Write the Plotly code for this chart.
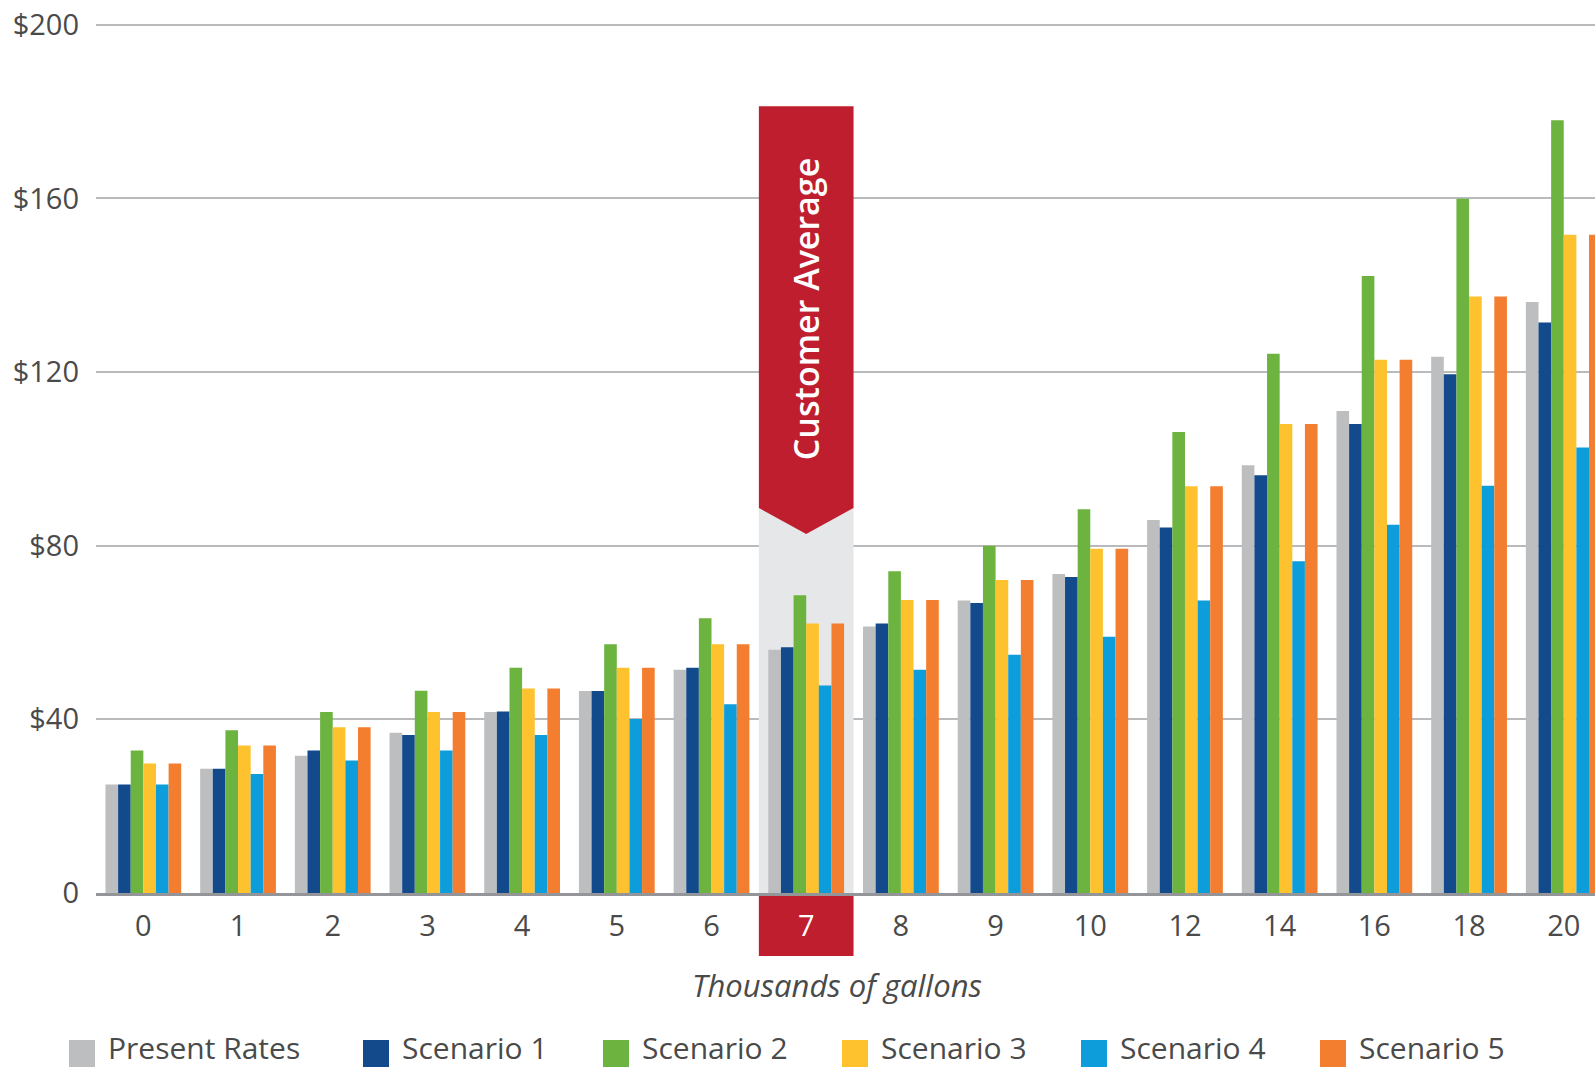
import plotly.graph_objects as go

# ---- data ----
categories = ["0", "1", "2", "3", "4", "5", "6", "7", "8", "9", "10", "12", "14", "16", "18", "20"]
series_names = ["Present Rates", "Scenario 1", "Scenario 2", "Scenario 3", "Scenario 4", "Scenario 5"]
present_rates = [25.0, 28.6, 31.6, 36.9, 41.7, 46.5, 51.4, 56.0, 61.4, 67.4, 73.5, 85.9, 98.5, 111.0, 123.5, 136.1]
scenario_1 = [25.0, 28.6, 32.8, 36.4, 41.8, 46.5, 51.9, 56.6, 62.1, 66.8, 72.8, 84.2, 96.2, 108.0, 119.5, 131.4]
scenario_2 = [32.8, 37.5, 41.7, 46.6, 51.9, 57.3, 63.3, 68.6, 74.1, 80.0, 88.4, 106.2, 124.2, 142.1, 159.9, 178.0]
scenario_3 = [29.8, 34.0, 38.2, 41.7, 47.1, 51.9, 57.3, 62.1, 67.5, 72.1, 79.3, 93.7, 108.0, 122.8, 137.4, 151.6]
scenario_4 = [25.0, 27.4, 30.5, 32.8, 36.4, 40.1, 43.5, 47.8, 51.4, 54.9, 59.0, 67.4, 76.4, 84.8, 93.8, 102.6]
scenario_5 = [29.8, 34.0, 38.2, 41.7, 47.1, 51.9, 57.3, 62.1, 67.5, 72.1, 79.3, 93.7, 108.0, 122.8, 137.4, 151.6]
y_tick_vals = [0, 40, 80, 120, 160, 200]
y_tick_text = ["0", "$40", "$80", "$120", "$160", "$200"]
highlight_category = "7"
highlight_label = "Customer Average"
x_title = "Thousands of gallons"

colors = ["#BCBEC0", "#124A8C", "#6CB33F", "#FDC22D", "#0D9DDB", "#F47E2F"]
RED = "#BE1E2D"
BAND = "#E6E7E8"
TEXT = "#4A4A4A"
FONT = "Open Sans"

W, H = 1595, 1068
ML, MR, MT, MB = 96, 0, 16, 175
X_RANGE = [-0.5, 15.33]
Y_RANGE = [0, 202]

all_series = [present_rates, scenario_1, scenario_2, scenario_3, scenario_4, scenario_5]
xpos = list(range(len(categories)))
hi = categories.index(highlight_category)

fig = go.Figure()
for name, vals, col in zip(series_names, all_series, colors):
    fig.add_trace(go.Bar(x=xpos, y=vals, name=name, marker=dict(color=col, line=dict(width=0)),
                         showlegend=False))

tick_text = [f"<span style='color:white'>{c}</span>" if c == highlight_category else c for c in categories]

plot_w = W - ML - MR
plot_h = H - MT - MB


def px_x(px):
    return (px - ML) / plot_w


def px_y(py):
    return (H - MB - py) / plot_h


def data_to_paper_x(v):
    return (v - X_RANGE[0]) / (X_RANGE[1] - X_RANGE[0])


shapes = []
# grey band behind highlighted group
shapes.append(dict(type="rect", xref="x", yref="y", x0=hi - 0.5, x1=hi + 0.5, y0=0, y1=88.7,
                   fillcolor=BAND, line=dict(width=0), layer="between"))
# red banner with chevron
path = (f"M {hi - 0.5} 181.2 L {hi + 0.5} 181.2 L {hi + 0.5} 88.7 L {hi} 82.7 "
        f"L {hi - 0.5} 88.7 Z")
shapes.append(dict(type="path", xref="x", yref="y", path=path, fillcolor=RED,
                   line=dict(width=0), layer="above"))
# red box behind tick label
shapes.append(dict(type="rect", xref="paper", yref="paper",
                   x0=data_to_paper_x(hi - 0.5), x1=data_to_paper_x(hi + 0.5),
                   y0=px_y(956), y1=px_y(894), fillcolor=RED, line=dict(width=0), layer="below"))

annotations = [
    dict(x=hi, y=134.5, xref="x", yref="y", text=highlight_label, textangle=-90, showarrow=False,
         font=dict(family=FONT, size=34, color="white", weight=600)),
    dict(x=px_x(837), y=px_y(985), xref="paper", yref="paper", text=f"<i>{x_title}</i>",
         showarrow=False, font=dict(family=FONT, size=31, color=TEXT), xanchor="center", yanchor="middle"),
]

# manual legend with large square swatches
legend_sq_x = [69, 363, 603, 842, 1081, 1320]
for name, col, sx in zip(series_names, colors, legend_sq_x):
    shapes.append(dict(type="rect", xref="paper", yref="paper", x0=px_x(sx), x1=px_x(sx + 26),
                       y0=px_y(1067), y1=px_y(1040), fillcolor=col, line=dict(width=0)))
    annotations.append(dict(x=px_x(sx + 37), y=px_y(1047), xref="paper", yref="paper", text=name,
                            showarrow=False, xanchor="left", yanchor="middle",
                            font=dict(family=FONT, size=30, color=TEXT)))

fig.update_layout(
    width=W, height=H,
    margin=dict(l=ML, r=MR, t=MT, b=MB, pad=0),
    paper_bgcolor="white", plot_bgcolor="white",
    barmode="group", bargap=0.2, bargroupgap=0,
    font=dict(family=FONT, size=29, color=TEXT),
    shapes=shapes, annotations=annotations,
    showlegend=False,
)
fig.update_xaxes(range=X_RANGE, tickvals=xpos, ticktext=tick_text, showgrid=False, zeroline=False,
                 showline=True, linecolor="#939598", linewidth=3, ticks="", ticklabelstandoff=5,
                 tickfont=dict(family=FONT, size=29, color=TEXT))
fig.update_yaxes(range=Y_RANGE, tickvals=y_tick_vals, ticktext=y_tick_text, showgrid=True,
                 gridcolor="#B8BABC", gridwidth=2, zeroline=False, showline=False, ticks="",
                 ticklabelstandoff=16, tickfont=dict(family=FONT, size=29, color=TEXT))

fig.write_html("out.html", config={"displayModeBar": False},
               post_script="document.body.style.margin='0';")
